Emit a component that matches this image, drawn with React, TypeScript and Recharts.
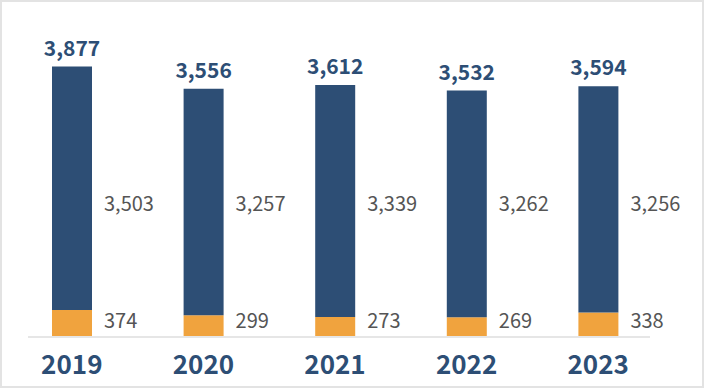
import React from "react";
import {
  BarChart,
  Bar,
  XAxis,
  YAxis,
  LabelList,
  ReferenceLine,
} from "recharts";

const years = ["2019", "2020", "2021", "2022", "2023"];
const mainValues = [3503, 3257, 3339, 3262, 3256];
const smallValues = [374, 299, 273, 269, 338];
const totals = [3877, 3556, 3612, 3532, 3594];

const NAVY = "#2d4e75";
const ORANGE = "#f0a33e";
const GREY_TEXT = "#555555";
const FONT = "'Noto Sans CJK KR', 'Noto Sans', sans-serif";

// value level (data units) at which the side labels sit
const MAIN_LABEL_LEVEL = 1915;
const SMALL_LABEL_LEVEL = 237;

const data = years.map((year, i) => ({
  year,
  small: smallValues[i],
  main: mainValues[i],
  total: totals[i],
}));

const fmt = (v: number) => v.toLocaleString("en-US");

const MainLabel = (props: any) => {
  const { x, y, width, height, value, index } = props;
  const ppu = height / value;
  const baseline = y + height + smallValues[index] * ppu;
  return (
    <g>
      <text
        x={x + width / 2}
        y={y - 11}
        textAnchor="middle"
        fill={NAVY}
        fontSize={21}
        fontWeight={700}
        fontFamily={FONT}
      >
        {fmt(totals[index])}
      </text>
      <text
        x={x + width + 12}
        y={baseline - MAIN_LABEL_LEVEL * ppu}
        dominantBaseline="central"
        fill={GREY_TEXT}
        fontSize={20}
        fontFamily={FONT}
      >
        {fmt(value)}
      </text>
    </g>
  );
};

const SmallLabel = (props: any) => {
  const { x, y, width, height, value } = props;
  const ppu = height / value;
  const baseline = y + height;
  return (
    <text
      x={x + width + 12}
      y={baseline - SMALL_LABEL_LEVEL * ppu}
      dominantBaseline="central"
      fill={GREY_TEXT}
      fontSize={20}
      fontFamily={FONT}
    >
      {fmt(value)}
    </text>
  );
};

const AxisLine = (props: any) => {
  const { x1, x2, y1 } = props;
  return (
    <line x1={x1 + 22} x2={x2 - 14} y1={y1 + 1} y2={y1 + 1} stroke="#e6e6e6" strokeWidth={2} />
  );
};

export default function App() {
  return (
    <div
      style={{
        position: "absolute",
        left: 0,
        top: 0,
        width: 704,
        height: 388,
        boxSizing: "border-box",
        border: "2px solid #e3e3e3",
        background: "#fff",
      }}
    >
      <BarChart
        width={700}
        height={384}
        data={data}
        margin={{ top: 56, right: 38, bottom: 12, left: 4 }}
        barSize={40}
      >
        <YAxis hide domain={[0, 4000]} />
        <XAxis
          dataKey="year"
          axisLine={false}
          tickLine={false}
          tickSize={0}
          tickMargin={20}
          height={38}
          interval={0}
          tick={{ fill: NAVY, fontSize: 26, fontWeight: 700, fontFamily: FONT }}
        />
        <ReferenceLine y={0} shape={AxisLine} />
        <Bar dataKey="small" stackId="a" fill={ORANGE} isAnimationActive={false}>
          <LabelList dataKey="small" content={SmallLabel} />
        </Bar>
        <Bar dataKey="main" stackId="a" fill={NAVY} isAnimationActive={false}>
          <LabelList dataKey="main" content={MainLabel} />
        </Bar>
      </BarChart>
    </div>
  );
}
